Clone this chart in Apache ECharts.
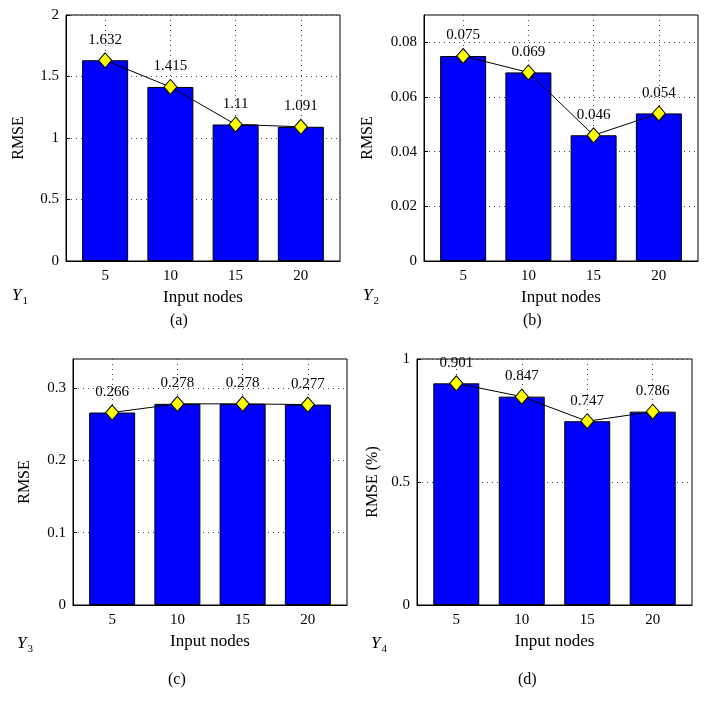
<!DOCTYPE html>
<html>
<head>
<meta charset="utf-8">
<script src="https://cdn.jsdelivr.net/npm/echarts@6/dist/echarts.min.js"></script>
<style>
html,body{margin:0;padding:0;background:#fff;}
#main{width:709px;height:713px;}
</style>
</head>
<body>
<div id="main"></div>
<script>
// ---- data ----
const categories = [5, 10, 15, 20];
const rmseY1 = [1.632, 1.415, 1.11, 1.091];
const rmseY2 = [0.075, 0.069, 0.046, 0.054];
const rmseY3 = [0.266, 0.278, 0.278, 0.277];
const rmseY4 = [0.901, 0.847, 0.747, 0.786];
const yTicksY1 = [0, 0.5, 1, 1.5, 2];
const yTicksY2 = [0, 0.02, 0.04, 0.06, 0.08];
const yTicksY3 = [0, 0.1, 0.2, 0.3];
const yTicksY4 = [0, 0.5, 1];
const xAxisName = 'Input nodes';
const yNames = ['RMSE', 'RMSE', 'RMSE', 'RMSE (%)'];
const panelTags = ['(a)', '(b)', '(c)', '(d)'];
const outputIdx = ['1', '2', '3', '4'];

const FONT = 'Liberation Serif';
const panels = [
  {vals: rmseY1, ticks: yTicksY1, yMax: 2, yInt: 0.5, grid: {left: 66, top: 15, width: 274, height: 246}, nameGap: 39, tag: [180, 323], ylab: [12, 297]},
  {vals: rmseY2, ticks: yTicksY2, yMax: 0.09, yInt: 0.02, grid: {left: 424, top: 15, width: 274, height: 246}, nameGap: 48, tag: [533, 323], ylab: [363, 297]},
  {vals: rmseY3, ticks: yTicksY3, yMax: 0.34, yInt: 0.1, grid: {left: 73, top: 359, width: 274, height: 246}, nameGap: 40, tag: [178, 682], ylab: [17, 645]},
  {vals: rmseY4, ticks: yTicksY4, yMax: 1, yInt: 0.5, grid: {left: 417, top: 359, width: 275, height: 246}, nameGap: 36, tag: [528, 682], ylab: [371, 645]}
];

const grids = [], xAxes = [], yAxes = [], series = [], graphics = [];
panels.forEach((p, i) => {
  grids.push(Object.assign({show: true, borderColor: '#000', borderWidth: 1, backgroundColor: 'transparent'}, p.grid));
  xAxes.push({
    type: 'value', gridIndex: i, min: 2, max: 23,
    name: xAxisName, nameLocation: 'middle', nameGap: 28,
    nameTextStyle: {fontFamily: FONT, fontSize: 17, color: '#000'},
    axisLine: {show: true, lineStyle: {color: '#000', width: 1}},
    axisTick: {show: true, inside: true, length: 4, customValues: categories, lineStyle: {color: '#000'}},
    axisLabel: {show: true, customValues: categories, margin: 8, fontFamily: FONT, fontSize: 15, color: '#000'},
    splitLine: {show: true, customValues: categories, lineStyle: {color: '#444', type: [1, 4], width: 1}}
  });
  yAxes.push({
    type: 'value', gridIndex: i, min: 0, max: p.yMax, interval: p.yInt,
    name: yNames[i], nameLocation: 'middle', nameGap: p.nameGap,
    nameTextStyle: {fontFamily: FONT, fontSize: 16, color: '#000'},
    axisLine: {show: true, lineStyle: {color: '#000', width: 1}},
    axisTick: {show: true, inside: true, length: 4, customValues: p.ticks, lineStyle: {color: '#000'}},
    axisLabel: {show: true, customValues: p.ticks, margin: 7, fontFamily: FONT, fontSize: 15, color: '#000'},
    splitLine: {show: true, lineStyle: {color: '#444', type: [1, 4], width: 1}}
  });
  const pts = categories.map((c, k) => [c, p.vals[k]]);
  series.push({
    type: 'bar', xAxisIndex: i, yAxisIndex: i, data: pts, barWidth: 46,
    itemStyle: {color: '#0000ff', borderColor: '#000', borderWidth: 1},
    silent: true, z: 2
  });
  series.push({
    type: 'line', xAxisIndex: i, yAxisIndex: i, data: pts,
    symbol: 'diamond', symbolSize: [13, 15],
    lineStyle: {color: '#000', width: 1},
    itemStyle: {color: '#ffff00', borderColor: '#000', borderWidth: 1},
    label: {show: true, position: 'top', distance: 5, fontFamily: FONT, fontSize: 15, color: '#000',
      formatter: (d) => String(d.value[1])},
    z: 3, animation: false
  });
  graphics.push({
    type: 'text', left: p.tag[0] - 10, top: p.tag[1] - 10,
    style: {text: panelTags[i], font: '16px "Liberation Serif"', fill: '#000'}
  });
  graphics.push({
    type: 'text', left: p.ylab[0], top: p.ylab[1] - 10,
    style: {
      text: '{i|Y}{s|' + outputIdx[i] + '}',
      rich: {
        i: {fontFamily: FONT, fontStyle: 'italic', fontSize: 17, fill: '#000', verticalAlign: 'bottom'},
        s: {fontFamily: FONT, fontSize: 11, fill: '#000', verticalAlign: 'bottom', padding: [0, 0, -3, 1]}
      }
    }
  });
});

const chart = echarts.init(document.getElementById('main'), null, {renderer: 'canvas'});
chart.setOption({
  animation: false,
  backgroundColor: '#fff',
  grid: grids, xAxis: xAxes, yAxis: yAxes, series: series, graphic: graphics
});
</script>
</body>
</html>
